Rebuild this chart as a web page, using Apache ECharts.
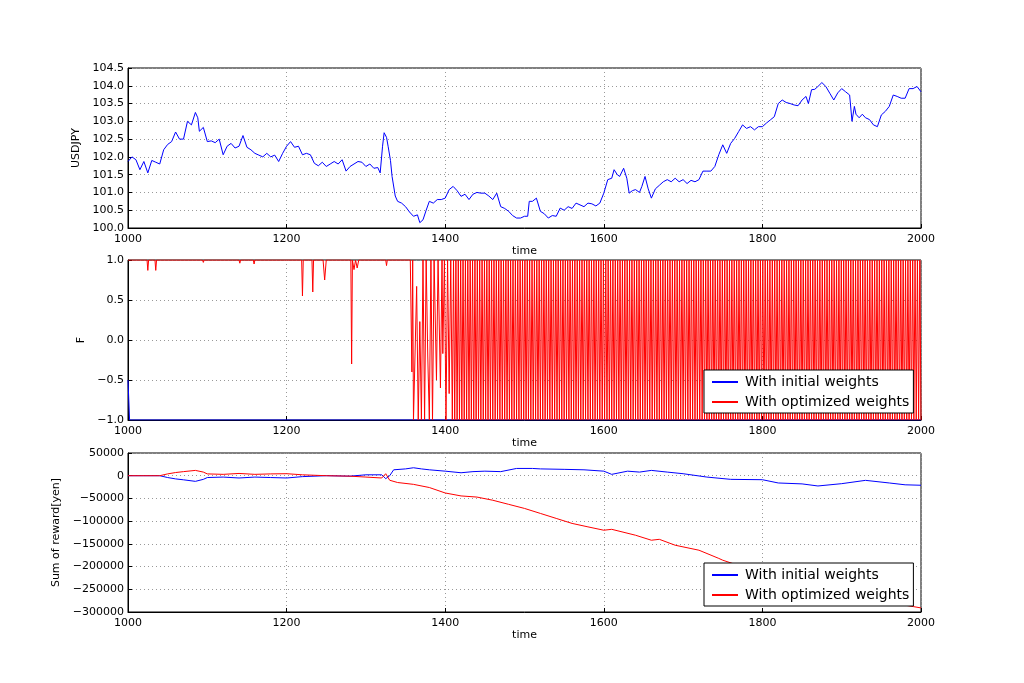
<!DOCTYPE html>
<html>
<head>
<meta charset="utf-8">
<script src="https://cdn.jsdelivr.net/npm/echarts@6/dist/echarts.min.js"></script>
<style>
  html, body { margin: 0; padding: 0; background: #fff; }
  #main { width: 1024px; height: 683px; }
</style>
</head>
<body>
<div id="main"></div>
<script>
// USDJPY rate, [time, price]
var usdjpy = [
  [1000, 101.87], [1005, 102.0], [1010, 101.92], [1015, 101.64], [1020, 101.87], [1025, 101.55],
  [1030, 101.9], [1035, 101.85], [1040, 101.8], [1045, 102.2], [1050, 102.35], [1055, 102.43],
  [1060, 102.7], [1065, 102.5], [1070, 102.5], [1075, 103.0], [1080, 102.9], [1085, 103.25],
  [1088, 103.1], [1090, 102.72], [1095, 102.83], [1100, 102.43], [1105, 102.45], [1110, 102.4],
  [1115, 102.5], [1120, 102.06], [1125, 102.3], [1130, 102.38], [1135, 102.25], [1140, 102.3],
  [1145, 102.6], [1150, 102.27], [1155, 102.2], [1160, 102.1], [1165, 102.05], [1170, 102.0],
  [1175, 102.1], [1180, 102.0], [1185, 102.05], [1190, 101.87], [1195, 102.1], [1200, 102.3],
  [1205, 102.43], [1210, 102.27], [1215, 102.3], [1220, 102.06], [1225, 102.1], [1230, 102.06],
  [1235, 101.82], [1240, 101.75], [1245, 101.85], [1250, 101.73], [1255, 101.8], [1260, 101.87],
  [1265, 101.8], [1270, 101.92], [1275, 101.6], [1280, 101.73], [1285, 101.8], [1290, 101.87],
  [1295, 101.85], [1300, 101.73], [1305, 101.8], [1310, 101.68], [1315, 101.7], [1318, 101.55],
  [1321, 102.3], [1323, 102.68], [1326, 102.55], [1328, 102.3], [1331, 101.9], [1333, 101.45],
  [1337, 100.9], [1340, 100.75], [1345, 100.7], [1350, 100.6], [1355, 100.45], [1360, 100.33],
  [1365, 100.37], [1368, 100.15], [1372, 100.23], [1376, 100.5], [1380, 100.75], [1385, 100.7],
  [1390, 100.8], [1395, 100.8], [1400, 100.84], [1405, 101.08], [1410, 101.17], [1415, 101.05],
  [1420, 100.89], [1425, 100.95], [1430, 100.8], [1435, 100.95], [1440, 101.0], [1445, 100.98],
  [1450, 100.98], [1455, 100.9], [1460, 100.8], [1465, 100.98], [1470, 100.6], [1475, 100.55],
  [1480, 100.47], [1485, 100.35], [1490, 100.28], [1495, 100.28], [1500, 100.33], [1504, 100.33],
  [1506, 100.75], [1510, 100.75], [1515, 100.84], [1520, 100.47], [1525, 100.4], [1530, 100.28],
  [1535, 100.35], [1540, 100.33], [1545, 100.56], [1550, 100.5], [1555, 100.6], [1560, 100.55],
  [1565, 100.7], [1570, 100.65], [1575, 100.6], [1580, 100.7], [1585, 100.68], [1590, 100.62],
  [1595, 100.7], [1600, 100.98], [1605, 101.36], [1610, 101.4], [1613, 101.64], [1617, 101.5],
  [1620, 101.45], [1625, 101.68], [1629, 101.4], [1632, 100.98], [1636, 101.05], [1640, 101.08],
  [1645, 101.0], [1648, 101.17], [1652, 101.45], [1656, 101.1], [1660, 100.84], [1665, 101.1],
  [1670, 101.2], [1675, 101.3], [1680, 101.36], [1685, 101.3], [1690, 101.4], [1695, 101.3],
  [1700, 101.36], [1705, 101.25], [1710, 101.34], [1715, 101.3], [1720, 101.36], [1725, 101.6],
  [1730, 101.6], [1735, 101.6], [1740, 101.73], [1745, 102.06], [1750, 102.34], [1755, 102.1],
  [1760, 102.38], [1765, 102.52], [1770, 102.71], [1775, 102.9], [1780, 102.8], [1785, 102.85],
  [1790, 102.76], [1795, 102.85], [1800, 102.85], [1805, 102.95], [1810, 103.04], [1815, 103.13],
  [1820, 103.5], [1825, 103.6], [1830, 103.53], [1835, 103.5], [1840, 103.46], [1845, 103.44],
  [1850, 103.6], [1855, 103.7], [1858, 103.5], [1862, 103.89], [1866, 103.9], [1870, 103.98],
  [1875, 104.09], [1880, 103.98], [1885, 103.79], [1890, 103.6], [1895, 103.8], [1900, 103.92],
  [1905, 103.83], [1910, 103.74], [1913, 103.0], [1916, 103.42], [1918, 103.2], [1922, 103.1],
  [1926, 103.2], [1930, 103.1], [1935, 103.05], [1940, 102.9], [1945, 102.85], [1950, 103.18],
  [1955, 103.28], [1960, 103.42], [1965, 103.74], [1970, 103.7], [1975, 103.65], [1980, 103.65],
  [1985, 103.92], [1990, 103.92], [1995, 103.98], [2000, 103.83]
];

// F with initial weights: drops straight to -1 and stays there
var fInitial = [[1000, -0.5], [1002, -1], [2000, -1]];

// F with optimized weights before the oscillation settles, [time, F]
var fOptStart = [
  [1000, 1], [1024, 1], [1025, 0.87], [1026, 1], [1034, 1], [1035, 0.87], [1036, 1],
  [1094, 1], [1095, 0.97], [1096, 1], [1140, 1], [1141, 0.96], [1142, 1], [1158, 1], [1159, 0.95], [1160, 1],
  [1219, 1], [1220, 0.55], [1221, 1], [1232, 1], [1233, 0.6], [1234, 1], [1246, 1], [1248, 0.75], [1250, 1],
  [1281, 1], [1282, -0.3], [1283, 1], [1285, 0.88], [1287, 1], [1289, 0.9], [1291, 1],
  [1325, 1], [1326, 0.93], [1327, 1], [1356, 1], [1358, -0.4], [1359, 1], [1360, -1], [1362, -1],
  [1364, 0.67], [1366, -1], [1368, 0.23], [1370, -1], [1372, 1], [1374, -1], [1376, 1], [1378, -0.2],
  [1380, -1], [1382, 1], [1384, -1], [1386, 1], [1389, -0.5], [1391, 1], [1394, -0.6], [1396, 1],
  [1397, -0.17], [1399, 1], [1401, -1], [1403, 1], [1405, -0.67], [1407, 1], [1409, -1]
];
// then one sample every 1.5 time units from 1410.5 on: H = 1, L = -1
var fOptSwing =
  'HLHLHLHLHLHLHLHLHLHLHLHLHLHLHLHLHLHLHLHLHLHLHLHLHL' +
  'HLHLHLHLHLHLHLHLHLHLHLHLHLHLHLHLHLHLHLHLHLHLHLHLHL' +
  'HLHLHLHLHLHLHLHLHLHLHLHLHLHLHLHLHLHLHLHLHLHLHLHLHL' +
  'HLHLHLHLHLHLHLHLHLHLHLHLHLHLHLHLHLHLHLHLHLHLHLHLHL' +
  'HLHLHLHLHLHLHLHLHLHLHLHLHLHLHLHLHLHLHLHLHLHLHLHLHL' +
  'HLHLHLHLHLHLHLHLHLHLHLHLHLHLHLHLHLHLHLHLHLHLHLHLHL' +
  'HLHLHLHLHLHLHLHLHLHLHLHLHLHLHLHLHLHLHLHLHLHLHLHLHL' +
  'HLHLHLHLHLHLHLHLHLHLHLHLHLHLHLHLHLHLHLHLHLHLHLHLHL';

// cumulative reward [time, yen]
var rewardInitial = [
  [1000, 0], [1020, 0], [1040, 0], [1050, -4000], [1060, -7000], [1070, -9000], [1085, -12400],
  [1095, -8000], [1100, -4000], [1120, -3000], [1140, -5000], [1160, -3000], [1180, -4000],
  [1200, -5000], [1220, -2000], [1250, 0], [1280, -1000], [1300, 2000], [1320, 2000], [1325, -6500],
  [1330, 0], [1335, 13000], [1350, 15000], [1360, 17500], [1370, 15000], [1380, 13000], [1400, 10000],
  [1420, 6500], [1435, 9000], [1450, 10000], [1470, 9000], [1490, 16000], [1510, 16000], [1520, 15000],
  [1550, 14000], [1575, 13000], [1600, 10000], [1610, 3000], [1630, 10000], [1645, 8000], [1660, 11700],
  [1680, 8000], [1700, 4400], [1730, -3000], [1760, -8000], [1800, -8800], [1820, -16000], [1850, -18000],
  [1870, -22600], [1900, -17500], [1930, -10200], [1960, -16000], [1980, -20000], [2000, -21000]
];
var rewardOptimized = [
  [1000, 0], [1040, 0], [1050, 4000], [1060, 7000], [1070, 9000], [1085, 11700], [1095, 8000],
  [1100, 4000], [1120, 3000], [1140, 5000], [1160, 3000], [1180, 4000], [1200, 4400], [1220, 2000],
  [1250, 0], [1280, -1000], [1300, -3000], [1320, -5000], [1325, 4400], [1330, -10000], [1340, -15000],
  [1360, -19000], [1380, -26000], [1400, -38000], [1420, -44500], [1440, -47000], [1460, -54000],
  [1480, -63000], [1500, -72000], [1520, -83000], [1540, -94000], [1560, -105000], [1580, -112600],
  [1600, -120000], [1610, -118000], [1640, -131000], [1660, -142000], [1670, -140000], [1690, -153000],
  [1720, -164000], [1745, -182000], [1750, -186000], [1800, -215000], [1850, -238000], [1900, -260000],
  [1950, -276000], [1990, -288000], [2000, -291000]
];

var fOpt = fOptStart.slice();
for (var i = 0; i < fOptSwing.length; i++) {
  var t = 1410.5 + 1.5 * i;
  if (t > 2000) break;
  fOpt.push([t, fOptSwing[i] === 'H' ? 1 : -1]);
}

var font = 'DejaVu Sans';
function minus(v) { return String(v).replace('-', '\u2212'); }

function xAxis(idx) {
  return {
    type: 'value', gridIndex: idx, min: 1000, max: 2000, interval: 200,
    name: 'time', nameLocation: 'middle', nameGap: 18,
    nameTextStyle: { fontFamily: font, fontSize: 11, color: '#000' },
    axisLine: { onZero: false, lineStyle: { color: '#000' } },
    axisTick: { inside: true, length: 4, lineStyle: { color: '#000' } },
    axisLabel: { fontFamily: font, fontSize: 11, color: '#000', margin: 6,
      formatter: function (v) { return String(v); } },
    splitLine: { show: true, lineStyle: { color: '#999', type: [1, 3] } }
  };
}
function yAxis(idx, name, min, max, interval, fmt, gap) {
  return {
    type: 'value', gridIndex: idx, min: min, max: max, interval: interval,
    name: name, nameLocation: 'middle', nameGap: gap, nameRotate: 90,
    nameTextStyle: { fontFamily: font, fontSize: 11, color: '#000' },
    axisLine: { show: true, onZero: false, lineStyle: { color: '#000' } },
    axisTick: { inside: true, length: 4, lineStyle: { color: '#000' } },
    axisLabel: { fontFamily: font, fontSize: 11, color: '#000', margin: 4, formatter: fmt },
    splitLine: { show: true, lineStyle: { color: '#999', type: [1, 3] } }
  };
}
function legend(top) {
  return {
    data: ['With initial weights', 'With optimized weights'],
    orient: 'vertical', left: 704, top: top,
    padding: [5, 4, 4, 8], itemGap: 6, itemWidth: 26, itemHeight: 2,
    borderColor: '#000', borderWidth: 1, borderRadius: 0, backgroundColor: '#fff',
    icon: 'rect', selectedMode: false,
    textStyle: { fontFamily: font, fontSize: 14, color: '#000', padding: [0, 0, 0, 2] }
  };
}

var chart = echarts.init(document.getElementById('main'));
chart.setOption({
  animation: false,
  backgroundColor: '#fff',
  grid: [
    { left: 128, right: 103, top: 68, height: 160, show: true, borderColor: '#000', borderWidth: 1 },
    { left: 128, right: 103, top: 260, height: 160, show: true, borderColor: '#000', borderWidth: 1 },
    { left: 128, right: 103, top: 453, height: 159, show: true, borderColor: '#000', borderWidth: 1 }
  ],
  legend: [legend(370), legend(563)],
  xAxis: [xAxis(0), xAxis(1), xAxis(2)],
  yAxis: [
    yAxis(0, 'USDJPY', 100, 104.5, 0.5, function (v) { return v.toFixed(1); }, 40),
    yAxis(1, 'F', -1, 1, 0.5, function (v) { return minus(v.toFixed(1)); }, 40),
    yAxis(2, 'Sum of reward[yen]', -300000, 50000, 50000, function (v) { return minus(v); }, 66)
  ],
  series: [
    { type: 'line', xAxisIndex: 0, yAxisIndex: 0, data: usdjpy, showSymbol: false,
      lineStyle: { color: '#0000ff', width: 1 }, itemStyle: { color: '#0000ff' } },
    { name: 'With initial weights', type: 'line', xAxisIndex: 1, yAxisIndex: 1, data: fInitial,
      showSymbol: false, lineStyle: { color: '#0000ff', width: 1 }, itemStyle: { color: '#0000ff' } },
    { name: 'With optimized weights', type: 'line', xAxisIndex: 1, yAxisIndex: 1, data: fOpt,
      showSymbol: false, lineStyle: { color: '#ff0000', width: 1 }, itemStyle: { color: '#ff0000' } },
    { name: 'With initial weights', type: 'line', xAxisIndex: 2, yAxisIndex: 2, data: rewardInitial,
      showSymbol: false, lineStyle: { color: '#0000ff', width: 1 }, itemStyle: { color: '#0000ff' } },
    { name: 'With optimized weights', type: 'line', xAxisIndex: 2, yAxisIndex: 2, data: rewardOptimized,
      showSymbol: false, lineStyle: { color: '#ff0000', width: 1 }, itemStyle: { color: '#ff0000' } }
  ]
});
</script>
</body>
</html>
